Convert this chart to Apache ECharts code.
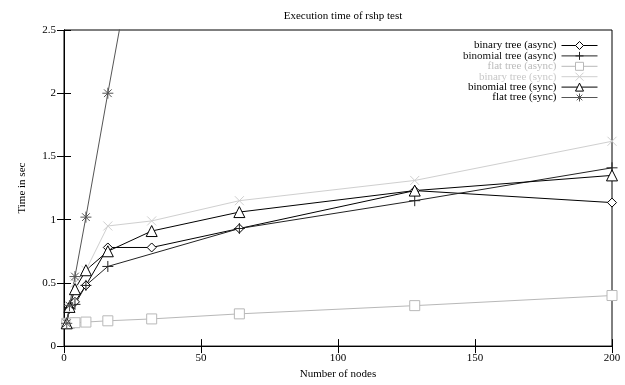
<!DOCTYPE html>
<html><head><meta charset="utf-8">
<script src="https://cdn.jsdelivr.net/npm/echarts@6/dist/echarts.min.js"></script>
<style>html,body{margin:0;padding:0;background:#fff}#c{width:625px;height:385px}</style>
</head><body><div id="c"></div>
<script>
const nodes = [1, 2, 4, 8, 16, 32, 64, 128, 200];
const binaryAsync   = [0.18, 0.30, 0.35, 0.48, 0.78, 0.78, 0.93, 1.23, 1.135];
const binomialAsync = [0.18, 0.30, 0.33, 0.48, 0.63, null, 0.93, 1.15, 1.41];
const flatAsync     = [0.18, 0.18, 0.185, 0.19, 0.20, 0.215, 0.255, 0.32, 0.40];
const binarySync    = [0.18, 0.30, 0.50, 0.60, 0.95, 0.99, 1.15, 1.31, 1.62];
const binomialSync  = [0.18, 0.31, 0.45, 0.60, 0.75, 0.91, 1.06, 1.23, 1.35];
const flatSync      = [0.18, 0.32, 0.55, 1.02, 2.0, 3.9];
const names = ['binary tree (async)', 'binomial tree (async)', 'flat tree (async)', 'binary tree (sync)', 'binomial tree (sync)', 'flat tree (sync)'];
const yTicks = ['0', '0.5', '1', '1.5', '2', '2.5'];

const F = 'Liberation Serif';
const plus = 'path://M0,5 L10,5 M5,0 L5,10';
const cross = 'path://M0,0 L10,10 M10,0 L0,10';
const star = 'path://M0,5 L10,5 M5,0 L5,10 M1.5,1.5 L8.5,8.5 M8.5,1.5 L1.5,8.5';

function pairs(vals){ return vals.map((v,i)=>[nodes[i], v]); }
function ser(name, vals, color, symbol, size, fill){
  return {
    name, type:'line', data:pairs(vals), connectNulls:true, clip:true,
    symbol, symbolSize:size, showAllSymbol:true,
    lineStyle:{color, width:1},
    itemStyle:{color: fill, borderColor:color, borderWidth:1},
    emphasis:{disabled:true}, animation:false
  };
}
const colors = ['#000', '#222', '#b8b8b8', '#cfcfcf', '#000', '#555'];
const series = [
  ser(names[0], binaryAsync, colors[0], 'diamond', 9, '#fff'),
  ser(names[1], binomialAsync, colors[1], plus, 11, 'none'),
  ser(names[2], flatAsync, colors[2], 'rect', 10, '#fff'),
  ser(names[3], binarySync, colors[3], cross, 9, 'none'),
  ser(names[4], binomialSync, colors[4], 'triangle', 11, '#fff'),
  ser(names[5], flatSync, colors[5], star, 11, 'none')
];
const textCols = ['#000', '#111', '#bbb', '#c8c8c8', '#000', '#000'];

const chart = echarts.init(document.getElementById('c'), null, {renderer:'canvas'});
chart.setOption({
  animation:false,
  backgroundColor:'#fff',
  title:{text:'Execution time of rshp test', left:338, textAlign:'center', top:6,
    textStyle:{fontFamily:F, fontSize:11, fontWeight:'normal', color:'#000'}},
  legend:{
    orient:'vertical', right:27, top:40, align:'right',
    itemWidth:36, itemHeight:10, itemGap:-1.6,
    lineStyle:{width:1},
    itemStyle:{borderWidth:1},
    data: names.map((n,i)=>({name:n, textStyle:{color:textCols[i]}})),
    textStyle:{fontFamily:F, fontSize:11, padding:[0,0,0,0]},
    selectedMode:false, padding:0
  },
  grid:{left:64, right:13, top:30, bottom:36, show:true, borderColor:'#000', borderWidth:1},
  xAxis:[{
    type:'value', min:0, max:200, interval:50,
    name:'Number of nodes', nameLocation:'middle', nameGap:22,
    nameTextStyle:{fontFamily:F, fontSize:11, color:'#000'},
    axisLine:{show:true, lineStyle:{color:'#000'}},
    axisTick:{show:true, inside:true, length:7, lineStyle:{color:'#000'}},
    axisLabel:{fontFamily:F, fontSize:11, color:'#000', margin:7},
    splitLine:{show:false}
  },{
    type:'value', min:0, max:200, interval:50, position:'top',
    axisLine:{show:true, lineStyle:{color:'#000'}},
    axisTick:{show:true, inside:true, length:7, lineStyle:{color:'#000'}},
    axisLabel:{show:false}, splitLine:{show:false}
  }],
  yAxis:[{
    type:'value', min:0, max:2.5, interval:0.5,
    name:'Time in sec', nameLocation:'middle', nameGap:36, nameRotate:90,
    nameTextStyle:{fontFamily:F, fontSize:11, color:'#000'},
    axisLine:{show:true, lineStyle:{color:'#000'}},
    axisTick:{show:true, inside:true, length:7, lineStyle:{color:'#000'}},
    axisLabel:{fontFamily:F, fontSize:11, color:'#000', margin:8,
      formatter:(v)=>yTicks[Math.round(v/0.5)]},
    splitLine:{show:false}
  },{
    type:'value', min:0, max:2.5, interval:0.5, position:'right',
    axisLine:{show:true, lineStyle:{color:'#000'}},
    axisTick:{show:true, inside:true, length:7, lineStyle:{color:'#000'}},
    axisLabel:{show:false}, splitLine:{show:false}
  }],
  series
});
</script></body></html>
